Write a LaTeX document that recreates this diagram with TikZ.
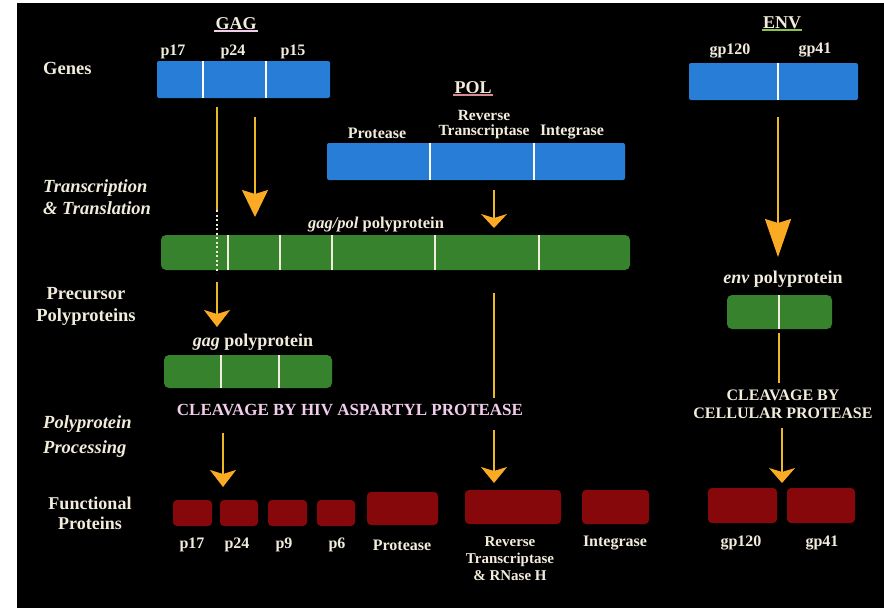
\documentclass[tikz,border=0pt]{standalone}
\usepackage{fontspec}
\setmainfont{Liberation Serif}
\usepackage{tikz}
\usetikzlibrary{arrows.meta}

\definecolor{geneblue}{RGB}{40,125,215}
\definecolor{polygreen}{RGB}{55,130,45}
\definecolor{protred}{RGB}{135,8,10}
\definecolor{linegold}{RGB}{235,185,40}
\definecolor{headorange}{RGB}{250,170,35}
\definecolor{textcream}{RGB}{242,236,220}
\definecolor{textpink}{RGB}{242,205,235}
\definecolor{ulpink}{RGB}{215,140,150}
\definecolor{ulgreen}{RGB}{140,195,70}

\begin{document}
\begin{tikzpicture}[x=1pt,y=-1pt]
	\tikzset{
	  genebox/.style={fill=geneblue, rounded corners=2pt, inner sep=0pt},
	  polybox/.style={fill=polygreen, rounded corners=5pt, inner sep=0pt},
	  protbox/.style={fill=protred, rounded corners=4pt, inner sep=0pt},
	  divider/.style={draw=white, line width=2pt},
	  dotline/.style={draw=textcream, line width=2.2pt, dash pattern=on 2pt off 2.5pt},
	  flowline/.style={draw=linegold, line width=1.8pt},
	  flowarrow/.style={flowline, -{Stealth[width=26pt, length=#1, inset=4pt, color=headorange, fill=headorange]}},
	  flowarrow/.default=17pt,
	  rowlabel/.style={text=textcream, inner sep=0pt, font={\fontsize{18.5}{22}\selectfont\bfseries}},
	  genelabel/.style={text=textcream, inner sep=0pt, font={\fontsize{16}{15}\selectfont\bfseries}},
	  titlelabel/.style={text=textcream, inner sep=1pt, font={\fontsize{18}{18}\selectfont\bfseries}},
	  protlabel/.style={text=textcream, inner sep=0pt, align=center, font={\fontsize{16}{16}\selectfont\bfseries}},
	  cleavelabel/.style={inner sep=0pt, align=center, font={\fontsize{17}{19}\selectfont\bfseries}},
	}

	\useasboundingbox (0,0) rectangle (884,608);
	\fill[black] (17,3) rectangle (884,608);

	%---NODES---
	% genes
	\node[genebox, minimum width=173pt, minimum height=37pt] (gaggene) at (243.5,79.5) {};
	\node[genebox, minimum width=298pt, minimum height=37pt] (polgene) at (476,161.5) {};
	\node[genebox, minimum width=169pt, minimum height=37pt] (envgene) at (773.5,81.5) {};

	% precursor polyproteins
	\node[polybox, minimum width=469pt, minimum height=35pt] (gagpol) at (395.5,252.5) {};
	\node[polybox, minimum width=168pt, minimum height=33pt] (gagpoly) at (248,371.5) {};
	\node[polybox, minimum width=105pt, minimum height=34pt] (envpoly) at (779.5,312) {};

	% functional proteins
	\node[protbox, minimum width=39pt, minimum height=26pt] (p17) at (192.5,513) {};
	\node[protbox, minimum width=38pt, minimum height=26pt] (p24) at (239,513) {};
	\node[protbox, minimum width=39pt, minimum height=26pt] (p9) at (287.5,513) {};
	\node[protbox, minimum width=38pt, minimum height=26pt] (p6) at (336,513) {};
	\node[protbox, minimum width=71pt, minimum height=33pt] (prot) at (402.5,508.5) {};
	\node[protbox, minimum width=96pt, minimum height=34pt] (rt) at (513,507) {};
	\node[protbox, minimum width=67pt, minimum height=34pt] (integ) at (615.5,507) {};
	\node[protbox, minimum width=69pt, minimum height=35pt] (gp120) at (742.5,505.5) {};
	\node[protbox, minimum width=68pt, minimum height=35pt] (gp41) at (821,505.5) {};

	% cut marks
	\foreach \xx in {203,266} \draw[divider] (\xx,0 |- gaggene.north) -- (\xx,0 |- gaggene.south);
	\foreach \xx in {430,534} \draw[divider] (\xx,0 |- polgene.north) -- (\xx,0 |- polgene.south);
	\draw[divider] (778,0 |- envgene.north) -- (778,0 |- envgene.south);
	\foreach \xx in {228,280,332,435,539} \draw[divider, draw=textcream] (\xx,0 |- gagpol.north) -- (\xx,0 |- gagpol.south);
	\foreach \xx in {221,279} \draw[divider, draw=textcream] (\xx,0 |- gagpoly.north) -- (\xx,0 |- gagpoly.south);
	\draw[divider, draw=textcream] (779,0 |- envpoly.north) -- (779,0 |- envpoly.south);

	\coordinate (gagA1) at (217,107);
	\coordinate (gagA2) at (217,210);
	\coordinate (gagA3) at (217,273);
	\coordinate (gagA4) at (217,282);
	\coordinate (gagA5) at (217,327);
	\coordinate (gagB1) at (255,117);
	\coordinate (gagB2) at (255,217);
	\coordinate (polA1) at (494,190);
	\coordinate (polA2) at (494,228);
	\coordinate (polB1) at (494,293);
	\coordinate (polB2) at (494,398);
	\coordinate (polB3) at (494,430);
	\coordinate (polB4) at (494,483);
	\coordinate (gagC1) at (223,433);
	\coordinate (gagC2) at (223,487);
	\coordinate (envA1) at (778,117);
	\coordinate (envA2) at (778,257);
	\coordinate (envB1) at (779,333);
	\coordinate (envB2) at (779,383);
	\coordinate (envC1) at (782,428);
	\coordinate (envC2) at (782,483);

	%---EDGES---
	\draw[flowline] (gagA1) -- (gagA2);
	\draw[dotline] (gagA2) -- (gagA3);
	\draw[flowarrow] (gagA4) -- (gagA5);
	\draw[flowarrow=27pt] (gagB1) -- (gagB2);
	\draw[flowarrow=14pt] (polA1) -- (polA2);
	\draw[flowline] (polB1) -- (polB2);
	\draw[flowarrow=16pt] (polB3) -- (polB4);
	\draw[flowarrow] (gagC1) -- (gagC2);
	\draw[flowarrow=38pt] (envA1) -- (envA2);
	\draw[flowline] (envB1) -- (envB2);
	\draw[flowarrow=15pt] (envC1) -- (envC2);

	%---LABELS---
	\node[rowlabel, anchor=west] (genes) at (43,68) {Genes};
	\node[rowlabel, anchor=west, align=left, font={\fontsize{18.5}{22}\selectfont\bfseries\itshape}] (transl) at (43,197) {Transcription\\\& Translation};
	\node[rowlabel, align=center] (precursor) at (86,306) {Precursor\\Polyproteins};
	\node[rowlabel, anchor=west, align=left, font={\fontsize{18.5}{25}\selectfont\bfseries\itshape}] (processing) at (43,437) {Polyprotein\\Processing};
	\node[rowlabel, align=center, font={\fontsize{18}{20}\selectfont\bfseries}] (functional) at (90,513) {Functional\\Proteins};

	\node[titlelabel] (gagtitle) at (236,24) {GAG};
	\draw[draw=textpink, line width=1.5pt] (gagtitle.south west) -- (gagtitle.south east);
	\node[titlelabel] (poltitle) at (473,88) {POL};
	\draw[draw=ulpink, line width=1.5pt] (poltitle.south west) -- (poltitle.south east);
	\node[titlelabel] (envtitle) at (782,23) {ENV};
	\draw[draw=ulgreen, line width=1.5pt] (envtitle.south west) -- (envtitle.south east);

	\node[genelabel] (lp17) at (173,52) {p17};
	\node[genelabel] (lp24) at (233,52) {p24};
	\node[genelabel] (lp15) at (293,52) {p15};
	\node[genelabel] (lprot) at (377,133) {Protease};
	\node[genelabel, align=center, font={\fontsize{15.5}{15}\selectfont\bfseries}] (lrt) at (484,125) {Reverse\\Transcriptase};
	\node[genelabel] (linteg) at (572,132) {Integrase};
	\node[genelabel] (lgp120) at (730,51) {gp120};
	\node[genelabel] (lgp41) at (815,50) {gp41};

	\node[genelabel, font={\fontsize{16.5}{15}\selectfont\bfseries}] (lgagpol) at (376,225) {\textit{gag/pol} polyprotein};
	\node[genelabel, font={\fontsize{18}{15}\selectfont\bfseries}] (lgagpoly) at (253,342) {\textit{gag} polyprotein};
	\node[genelabel, font={\fontsize{18}{15}\selectfont\bfseries}] (lenvpoly) at (783,279) {\textit{env} polyprotein};

	\node[cleavelabel, text=textpink] (cleavehiv) at (350,410) {CLEAVAGE BY HIV ASPARTYL PROTEASE};
	\node[cleavelabel, text=textcream, font={\fontsize{16}{18}\selectfont\bfseries}] (cleavecell) at (783,404) {CLEAVAGE BY\\CELLULAR PROTEASE};

	\node[protlabel] (tp17) at (192,545) {p17};
	\node[protlabel] (tp24) at (237,545) {p24};
	\node[protlabel] (tp9) at (284,545) {p9};
	\node[protlabel] (tp6) at (337,545) {p6};
	\node[protlabel] (tprot) at (402,545) {Protease};
	\node[protlabel, anchor=north, font={\fontsize{15}{17}\selectfont\bfseries}] (trt) at (510,536) {Reverse\\Transcriptase\\\& RNase H};
	\node[protlabel] (tinteg) at (615,543) {Integrase};
	\node[protlabel] (tgp120) at (741,543) {gp120};
	\node[protlabel] (tgp41) at (822,543) {gp41};

\end{tikzpicture}
\end{document}
